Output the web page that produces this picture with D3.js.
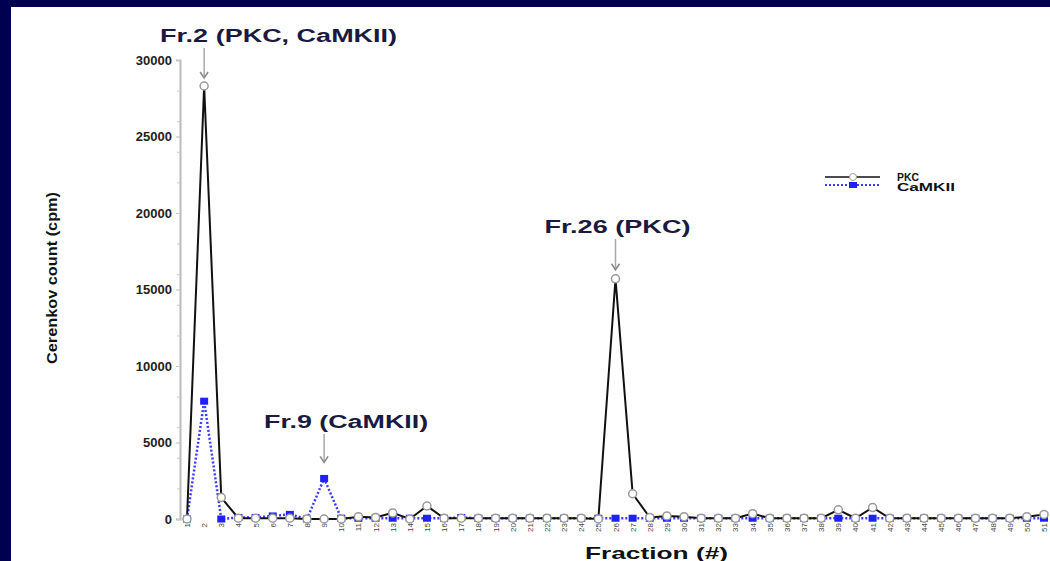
<!DOCTYPE html>
<html>
<head>
<meta charset="utf-8">
<script src="https://cdn.jsdelivr.net/npm/d3@7"></script>
<style>
  body { margin: 0; background: #000050; }
  text { font-family: "Liberation Sans", Arial, sans-serif; }
</style>
</head>
<body>
<svg width="1050" height="561"></svg>
<script>
// fraction numbers and counts
var fractions = [1, 2, 3, 4, 5, 6, 7, 8, 9, 10,
    11, 12, 13, 14, 15, 16, 17, 18, 19, 20,
    21, 22, 23, 24, 25, 26, 27, 28, 29, 30,
    31, 32, 33, 34, 35, 36, 37, 38, 39, 40,
    41, 42, 43, 44, 45, 46, 47, 48, 49, 50, 51];
var pkc = [0, 28300, 1400, 50, 50, 50, 50, 0, 0, 0,
    150, 100, 400, 0, 850, 50, 50, 50, 50, 50,
    50, 50, 50, 50, 0, 15700, 1650, 100, 200, 150,
    50, 50, 50, 350, 50, 50, 50, 50, 600, 50,
    750, 50, 50, 50, 50, 50, 50, 50, 50, 150, 300];
var camk = [0, 7700, 0, 100, 100, 200, 300, 0, 2650, 50,
    50, 50, 50, 50, 50, 50, 100, 50, 50, 50,
    50, 50, 50, 50, 50, 50, 50, 50, 50, 50,
    50, 50, 50, 50, 50, 50, 50, 50, 50, 50,
    50, 50, 50, 50, 50, 50, 50, 50, 50, 50, 50];
var yTicks = [0, 5000, 10000, 15000, 20000, 25000, 30000];
var noteLabels = ["Fr.2 (PKC, CaMKII)", "Fr.9 (CaMKII)", "Fr.26 (PKC)"];
var noteFractions = [2, 9, 26];

// where each label sits relative to its peak (dx of text start, gap above point, text width)
var noteLayout = [
    { dx: -44, gap: 8, textY: 42, w: 237 },
    { dx: -60, gap: 16, textY: 428, w: 164 },
    { dx: -71, gap: 9, textY: 233, w: 146 }
];

var svg = d3.select("svg");

svg.append("rect")
    .attr("x", 11).attr("y", 7)
    .attr("width", 1039).attr("height", 554)
    .attr("fill", "white");

var x = d3.scaleLinear().domain([1, 51]).range([187, 1044]);
var y = d3.scaleLinear().domain([0, 30000]).range([519, 60]);

// y axis
var yAxis = svg.append("g")
    .attr("transform", "translate(180,0)")
    .call(d3.axisLeft(y).tickValues(yTicks).tickSize(4).tickPadding(4).tickFormat(d3.format("d")));
yAxis.select(".domain").attr("stroke", "#bbb").attr("stroke-width", 2);
yAxis.selectAll(".tick line").attr("stroke", "#bbb");
yAxis.selectAll(".tick text")
    .attr("font-size", 13).attr("font-weight", "bold").attr("fill", "#222");

svg.append("g")
    .attr("transform", "translate(180,0)")
    .call(d3.axisLeft(y).ticks(12).tickSize(3).tickFormat(""))
    .call(g => g.select(".domain").remove())
    .selectAll("line").attr("stroke", "#ccc");

svg.append("text")
    .attr("transform", "translate(57,278) rotate(-90)")
    .attr("text-anchor", "middle")
    .attr("font-size", 15).attr("font-weight", "bold").attr("fill", "#111")
    .attr("textLength", 172).attr("lengthAdjust", "spacingAndGlyphs")
    .text("Cerenkov count (cpm)");

// x tick labels, rotated
svg.append("g").selectAll("text")
    .data(fractions)
    .enter()
    .append("text")
    .attr("transform", d => "translate(" + (x(d) + 3) + ",523) rotate(-90)")
    .attr("text-anchor", "end")
    .attr("font-size", 8)
    .attr("fill", "#444")
    .text(d => d);

svg.append("text")
    .attr("x", 585).attr("y", 559)
    .attr("font-size", 17).attr("font-weight", "bold").attr("fill", "#111")
    .attr("textLength", 143).attr("lengthAdjust", "spacingAndGlyphs")
    .text("Fraction (#)");

// lines
var line = d3.line().x((d, i) => x(fractions[i])).y(d => y(d));

svg.append("path")
    .datum(camk)
    .attr("d", line)
    .attr("fill", "none")
    .attr("stroke", "#3a3aff")
    .attr("stroke-width", 2.5)
    .attr("stroke-dasharray", "2,2");

svg.append("path")
    .datum(pkc)
    .attr("d", line)
    .attr("fill", "none")
    .attr("stroke", "#111")
    .attr("stroke-width", 2);

svg.append("g").selectAll("rect")
    .data(camk)
    .enter()
    .append("rect")
    .attr("x", (d, i) => x(fractions[i]) - 4)
    .attr("y", d => y(d) - 3.5)
    .attr("width", 8).attr("height", 7)
    .attr("fill", "#2020ff");

svg.append("g").selectAll("circle")
    .data(pkc)
    .enter()
    .append("circle")
    .attr("cx", (d, i) => x(fractions[i]))
    .attr("cy", d => y(d))
    .attr("r", 4)
    .attr("fill", "white")
    .attr("stroke", "#999")
    .attr("stroke-width", 1.5);

// annotations
var note = svg.append("g").selectAll("g")
    .data(noteLabels)
    .enter()
    .append("g");

function peakY(i) {
    var f = noteFractions[i];
    return y(Math.max(pkc[f - 1], camk[f - 1]));
}

note.append("line")
    .attr("x1", (d, i) => x(noteFractions[i]))
    .attr("x2", (d, i) => x(noteFractions[i]))
    .attr("y1", (d, i) => noteLayout[i].textY + 6)
    .attr("y2", (d, i) => peakY(i) - noteLayout[i].gap)
    .attr("stroke", "#aaa")
    .attr("stroke-width", 1.5);

note.append("path")
    .attr("d", (d, i) => {
        var px = x(noteFractions[i]), py = peakY(i) - noteLayout[i].gap;
        return "M" + (px - 4) + "," + (py - 6) + " L" + px + "," + py + " L" + (px + 4) + "," + (py - 6);
    })
    .attr("fill", "none")
    .attr("stroke", "#888")
    .attr("stroke-width", 1.5);

note.append("text")
    .attr("x", (d, i) => x(noteFractions[i]) + noteLayout[i].dx)
    .attr("y", (d, i) => noteLayout[i].textY)
    .attr("font-size", 18).attr("font-weight", "bold").attr("fill", "#1a1a40")
    .attr("textLength", (d, i) => noteLayout[i].w).attr("lengthAdjust", "spacingAndGlyphs")
    .text(d => d);

// legend
var legend = svg.append("g").attr("transform", "translate(825,177)");
legend.append("line").attr("x1", 0).attr("x2", 55).attr("y1", 0).attr("y2", 0)
    .attr("stroke", "#111").attr("stroke-width", 1.5);
legend.append("circle").attr("cx", 28).attr("cy", 0).attr("r", 3.5)
    .attr("fill", "white").attr("stroke", "#999");
legend.append("line").attr("x1", 0).attr("x2", 55).attr("y1", 8).attr("y2", 8)
    .attr("stroke", "#3a3aff").attr("stroke-width", 2).attr("stroke-dasharray", "2,2");
legend.append("rect").attr("x", 24).attr("y", 5).attr("width", 8).attr("height", 6)
    .attr("fill", "#2020ff");
legend.append("text").attr("x", 72).attr("y", 4)
    .attr("font-size", 10).attr("font-weight", "bold").attr("fill", "#111")
    .attr("textLength", 22).attr("lengthAdjust", "spacingAndGlyphs").text("PKC");
legend.append("text").attr("x", 72).attr("y", 14)
    .attr("font-size", 10).attr("font-weight", "bold").attr("fill", "#111")
    .attr("textLength", 58).attr("lengthAdjust", "spacingAndGlyphs").text("CaMKII");
</script>
</body>
</html>
